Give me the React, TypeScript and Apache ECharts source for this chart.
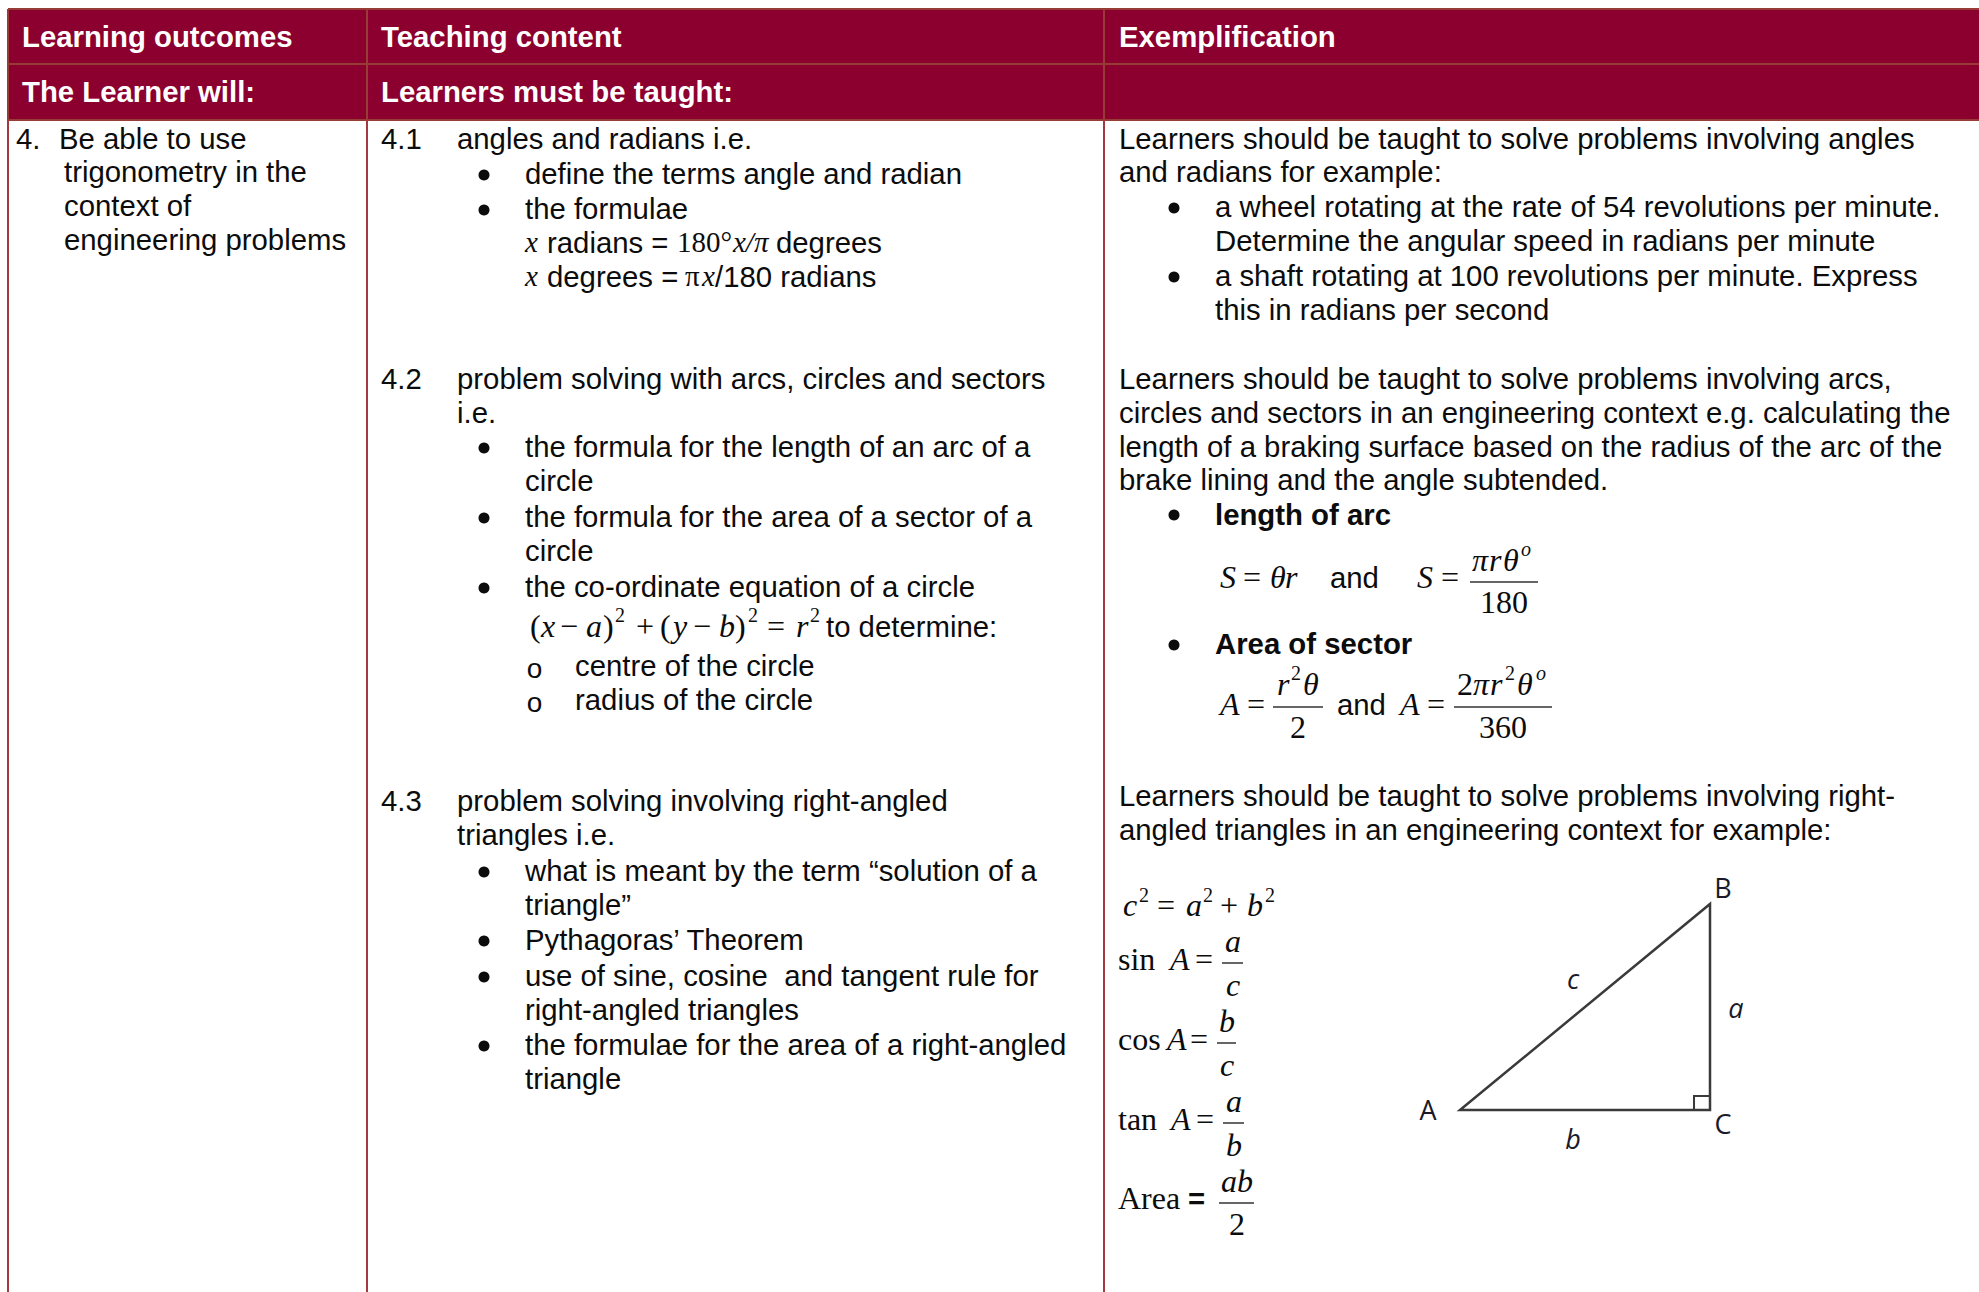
import React, { useEffect, useRef } from "react";
import * as echarts from "echarts";

const SANS = "'Liberation Sans', Arial, sans-serif";
const SERIF = "'Liberation Serif', 'Times New Roman', serif";
const LABEL = "'Open Sans', sans-serif";
const MAROON = "#8b002e";
const RULE = "#a33a3f";
const HEADRULE = "#983c38";
const SIZE = 29.33;
const SERIF_SIZE = 32;
const SMALL_SERIF_SIZE = 29;
const SUP_SIZE = 20;

const headerRow1 = ["Learning outcomes", "Teaching content", "Exemplification"];
const headerRow2 = ["The Learner will:", "Learners must be taught:"];
const outcomeLines = ["4.", "Be able to use", "trigonometry in the", "context of", "engineering problems"];
const outcomeX = [16, 59, 64, 64, 64];
const outcomeY = [138, 138, 171, 205, 239];

const sectionNumbers = ["4.1", "4.2", "4.3"];
const sectionNumberY = [138, 378, 800];

const teachingMain = [
  "angles and radians i.e.",
  "problem solving with arcs, circles and sectors",
  "i.e.",
  "problem solving involving right-angled",
  "triangles i.e.",
];
const teachingMainY = [138, 378, 412, 800, 834];

const teachingBullets = [
  "define the terms angle and radian",
  "the formulae",
  "the formula for the length of an arc of a",
  "circle",
  "the formula for the area of a sector of a",
  "circle",
  "the co-ordinate equation of a circle",
  "what is meant by the term “solution of a",
  "triangle”",
  "Pythagoras’ Theorem",
  "use of sine, cosine  and tangent rule for",
  "right-angled triangles",
  "the formulae for the area of a right-angled",
  "triangle",
];
const teachingBulletY = [173, 208, 446, 480, 516, 550, 586, 870, 904, 939, 975, 1009, 1044, 1078];
const teachingDotY = [175, 210, 448, 518, 588, 872, 941, 977, 1046];

const subItems = ["centre of the circle", "radius of the circle"];
const subItemY = [665, 699];

const exemplificationLines = [
  "Learners should be taught to solve problems involving angles",
  "and radians for example:",
  "Learners should be taught to solve problems involving arcs,",
  "circles and sectors in an engineering context e.g. calculating the",
  "length of a braking surface based on the radius of the arc of the",
  "brake lining and the angle subtended.",
  "Learners should be taught to solve problems involving right-",
  "angled triangles in an engineering context for example:",
];
const exemplificationY = [138, 171, 378, 412, 446, 479, 795, 829];

const exampleBullets = [
  "a wheel rotating at the rate of 54 revolutions per minute.",
  "Determine the angular speed in radians per minute",
  "a shaft rotating at 100 revolutions per minute. Express",
  "this in radians per second",
];
const exampleBulletY = [206, 240, 275, 309];
const exampleDotY = [208, 277, 515, 645];
const boldItems = ["length of arc", "Area of sector"];
const boldItemY = [514, 643];

type Seg = [string, number, "sans" | "bold" | "serif" | "it" | "sserif" | "sit" | "sup" | "supit"];
// [text, x, style] runs of each formula line, with the baseline y of that line
const formulaRuns: { y: number; segs: Seg[] }[] = [
  { y: 252.5, segs: [["x", 525, "sit"], ["radians =", 547, "sans"], ["180°", 677, "sserif"], ["x/π", 733, "sit"], ["degrees", 776, "sans"]] },
  { y: 286.5, segs: [["x", 525, "sit"], ["degrees =", 547, "sans"], ["π", 685, "sserif"], ["x", 702, "sit"], ["/180 radians", 715, "sans"]] },
  {
    y: 637,
    segs: [["(", 530, "serif"], ["x", 541, "it"], ["−", 560, "serif"], ["a", 586, "it"], [")", 603, "serif"], ["2", 615, "sup"], ["+", 636, "serif"], ["(", 660, "serif"], ["y", 673, "it"], ["−", 693, "serif"], ["b", 719, "it"], [")", 735, "serif"], ["2", 748, "sup"], ["=", 767, "serif"], ["r", 796, "it"], ["2", 810, "sup"], ["to determine:", 826, "sans"]],
  },
  { y: 588, segs: [["S", 1220, "it"], ["=", 1243, "serif"], ["θ", 1270, "it"], ["r", 1285, "it"], ["and", 1330, "sans"], ["S", 1417, "it"], ["=", 1441, "serif"]] },
  { y: 571, segs: [["π", 1472, "it"], ["r", 1489, "it"], ["θ", 1503, "it"], ["o", 1521, "supit"]] },
  { y: 613, segs: [["180", 1480, "serif"]] },
  { y: 715, segs: [["A", 1220, "it"], ["=", 1247, "serif"], ["and", 1337, "sans"], ["A", 1400, "it"], ["=", 1427, "serif"]] },
  { y: 695, segs: [["r", 1277, "it"], ["2", 1291, "sup"], ["θ", 1303, "it"], ["2", 1457, "serif"], ["π", 1473, "it"], ["r", 1490, "it"], ["2", 1505, "sup"], ["θ", 1517, "it"], ["o", 1536, "supit"]] },
  { y: 738, segs: [["2", 1290, "serif"], ["360", 1479, "serif"]] },
  { y: 916.5, segs: [["c", 1123, "it"], ["2", 1139, "sup"], ["=", 1157, "serif"], ["a", 1186, "it"], ["2", 1203, "sup"], ["+", 1220, "serif"], ["b", 1247, "it"], ["2", 1265, "sup"]] },
  { y: 970, segs: [["sin", 1118, "serif"], ["A", 1170, "it"], ["=", 1195, "serif"]] },
  { y: 952, segs: [["a", 1225, "it"]] },
  { y: 996, segs: [["c", 1226, "it"]] },
  { y: 1050, segs: [["cos", 1118, "serif"], ["A", 1167, "it"], ["=", 1190, "serif"]] },
  { y: 1032, segs: [["b", 1219, "it"]] },
  { y: 1076, segs: [["c", 1220, "it"]] },
  { y: 1130, segs: [["tan", 1118, "serif"], ["A", 1171, "it"], ["=", 1196, "serif"]] },
  { y: 1112, segs: [["a", 1226, "it"]] },
  { y: 1156, segs: [["b", 1226, "it"]] },
  { y: 1209, segs: [["Area", 1118, "serif"], ["=", 1188, "bold"]] },
  { y: 1192, segs: [["ab", 1221, "it"]] },
  { y: 1235, segs: [["2", 1229, "serif"]] },
];

// fraction bars: x1, x2, y
const fractionBars = [
  [1470, 1538, 582],
  [1273, 1323, 707],
  [1454, 1552, 707],
  [1222, 1243, 963],
  [1217, 1236, 1043],
  [1223, 1244, 1123],
  [1219, 1254, 1203],
];

const triangleLabels = ["A", "B", "C"];
const triangleLabelPos = [[1428, 1109], [1723, 887], [1723, 1123]];
const sideLabels = ["c", "a", "b"];
const sideLabelPos = [[1573, 978], [1736, 1007], [1573, 1138]];

function buildGraphic() {
  const els: any[] = [];
  const text = (t: string, x: number, y: number, o: any = {}) =>
    els.push({
      type: "text",
      x,
      y,
      silent: true,
      style: {
        text: t,
        fill: o.fill ?? "#0c0c0c",
        font: `${o.italic ? "italic " : ""}${o.bold ? "bold " : ""}${o.size ?? SIZE}px ${o.family ?? SANS}`,
        align: o.align ?? "left",
        verticalAlign: "middle",
      },
    });
  const line = (x1: number, y1: number, x2: number, y2: number, stroke: string, w: number) =>
    els.push({ type: "line", silent: true, shape: { x1, y1, x2, y2 }, style: { stroke, lineWidth: w } });
  const dot = (cx: number, cy: number) =>
    els.push({ type: "circle", silent: true, shape: { cx, cy, r: 5.5 }, style: { fill: "#0c0c0c" } });

  // header band
  els.push({ type: "rect", silent: true, shape: { x: 8, y: 9, width: 1971, height: 111 }, style: { fill: MAROON } });
  line(8, 9, 1979, 9, HEADRULE, 2);
  line(8, 64, 1979, 64, HEADRULE, 2);
  line(8, 120, 1979, 120, HEADRULE, 2);
  [8, 367, 1104].forEach((x) => {
    line(x, 9, x, 120, HEADRULE, 2);
    line(x, 120, x, 1292, RULE, 2);
  });

  const hx = [22, 381, 1119];
  headerRow1.forEach((t, i) => text(t, hx[i], 36.5, { bold: true, fill: "#ffffff" }));
  headerRow2.forEach((t, i) => text(t, hx[i], 91.5, { bold: true, fill: "#ffffff" }));

  outcomeLines.forEach((t, i) => text(t, outcomeX[i], outcomeY[i]));
  sectionNumbers.forEach((t, i) => text(t, 381, sectionNumberY[i]));
  teachingMain.forEach((t, i) => text(t, 457, teachingMainY[i]));
  teachingBullets.forEach((t, i) => text(t, 525, teachingBulletY[i]));
  teachingDotY.forEach((y) => dot(484, y));
  subItems.forEach((t, i) => {
    text(t, 575, subItemY[i]);
    text("o", 534.5, subItemY[i] + 3, { align: "center", size: 28 });
  });

  exemplificationLines.forEach((t, i) => text(t, 1119, exemplificationY[i]));
  exampleBullets.forEach((t, i) => text(t, 1215, exampleBulletY[i]));
  exampleDotY.forEach((y) => dot(1174, y));
  boldItems.forEach((t, i) => text(t, 1215, boldItemY[i], { bold: true }));

  formulaRuns.forEach(({ y, segs }) => {
    segs.forEach(([t, x, k]) => {
      if (k === "sans") text(t, x, y - 0.3465 * SIZE, {});
      else if (k === "bold") text(t, x, y - 0.3465 * SIZE, { bold: true });
      else if (k === "serif") text(t, x, y - 0.3465 * SERIF_SIZE, { family: SERIF, size: SERIF_SIZE });
      else if (k === "it") text(t, x, y - 0.3465 * SERIF_SIZE, { family: SERIF, size: SERIF_SIZE, italic: true });
      else if (k === "sserif") text(t, x, y - 0.3465 * SMALL_SERIF_SIZE, { family: SERIF, size: SMALL_SERIF_SIZE });
      else if (k === "sit") text(t, x, y - 0.3465 * SMALL_SERIF_SIZE, { family: SERIF, size: SMALL_SERIF_SIZE, italic: true });
      else if (k === "sup") text(t, x, y - 15 - 0.3465 * SUP_SIZE, { family: SERIF, size: SUP_SIZE });
      else text(t, x, y - 15 - 0.3465 * SUP_SIZE, { family: SERIF, size: SUP_SIZE, italic: true });
    });
  });

  fractionBars.forEach(([a, b, y]) => line(a, y, b, y, "#333333", 1.5));

  // triangle
  els.push({
    type: "polygon",
    silent: true,
    shape: { points: [[1460, 1110], [1710, 904], [1710, 1110]] },
    style: { fill: "none", stroke: "#3a3a3a", lineWidth: 2.5 },
  });
  els.push({
    type: "rect",
    silent: true,
    shape: { x: 1694, y: 1096, width: 16, height: 14 },
    style: { fill: "none", stroke: "#3a3a3a", lineWidth: 2 },
  });
  triangleLabels.forEach((t, i) =>
    text(t, triangleLabelPos[i][0], triangleLabelPos[i][1], { family: LABEL, size: 27, align: "center", fill: "#1a1a2a" })
  );
  sideLabels.forEach((t, i) =>
    text(t, sideLabelPos[i][0], sideLabelPos[i][1], { family: LABEL, size: 27, italic: true, align: "center", fill: "#1a1a2a" })
  );
  return els;
}

export default function App() {
  const ref = useRef<HTMLDivElement>(null);
  useEffect(() => {
    document.body.style.margin = "0";
    document.body.style.background = "#ffffff";
    const chart = echarts.init(ref.current!, undefined, { renderer: "svg" });
    chart.setOption({ animation: false, backgroundColor: "#ffffff", graphic: { elements: buildGraphic() } });
    return () => chart.dispose();
  }, []);
  return <div ref={ref} style={{ position: "absolute", left: 0, top: 0, width: 1979, height: 1292 }} />;
}
